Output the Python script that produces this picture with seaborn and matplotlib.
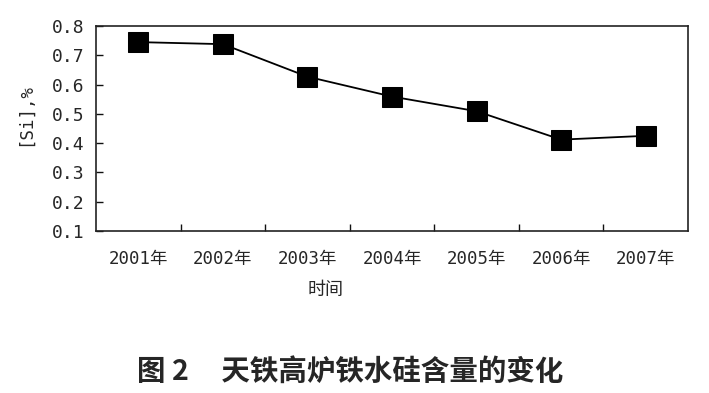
import numpy as np
import pandas as pd
import matplotlib
matplotlib.use("Agg")
import matplotlib.pyplot as plt
from matplotlib.ticker import FixedLocator, NullFormatter
import seaborn as sns

# data
years = ["2001年", "2002年", "2003年", "2004年", "2005年", "2006年", "2007年"]
si_pct = [0.745, 0.738, 0.627, 0.559, 0.509, 0.412, 0.425]
y_ticks = [0.1, 0.2, 0.3, 0.4, 0.5, 0.6, 0.7, 0.8]

df = pd.DataFrame({"year": years, "si": si_pct})

sns.set_theme(style="ticks")
mono = ["DejaVu Sans Mono", "Noto Sans CJK SC"]
cjk = ["Noto Sans CJK SC", "DejaVu Sans"]
plt.rcParams["font.family"] = mono
plt.rcParams["xtick.direction"] = "in"
plt.rcParams["ytick.direction"] = "in"

fig = plt.figure(figsize=(7.09, 3.93), dpi=100)
ax = fig.add_axes([96 / 709, 1 - 231 / 393, (688 - 96) / 709, (231 - 26) / 393])

sns.lineplot(data=df, x="year", y="si", sort=False, color="black", lw=1.3,
             marker="s", markersize=14.5, markeredgecolor="black",
             markerfacecolor="black", ax=ax)

ax.set_xlim(-0.5, len(years) - 0.5)
ax.set_ylim(0.1, 0.8)
ax.set_yticks(y_ticks)
ax.set_yticklabels([f"{v:.1f}" for v in y_ticks], family=mono, fontsize=13)

# category labels centred, tick marks on category boundaries
ax.set_xticks(range(len(years)))
ax.set_xticklabels(years, family=mono, fontsize=12.5)
ax.tick_params(axis="x", which="major", length=0, pad=14)
ax.xaxis.set_minor_locator(FixedLocator(np.arange(0.5, len(years) - 1, 1)))
ax.xaxis.set_minor_formatter(NullFormatter())
ax.tick_params(axis="x", which="minor", direction="in", length=5, width=1,
               color="#111111", bottom=True)
ax.tick_params(axis="y", which="major", direction="in", length=5, width=1,
               color="#111111", left=True, pad=8)

for s in ax.spines.values():
    s.set_color("#222222")
    s.set_linewidth(1.2)
    s.set_visible(True)

ax.set_xlabel("")
ax.set_ylabel("")
fig.text(25 / 709, 1 - 114 / 393, "[Si],%", rotation=90, ha="center",
         va="center", family=mono, fontsize=12.5)
fig.text(326 / 709, 1 - 290 / 393, "时间", ha="center", va="center",
         family=cjk, fontsize=13)
fig.text(350 / 709, 1 - 372 / 393, "图 2     天铁高炉铁水硅含量的变化",
         ha="center", va="center", family=cjk, fontsize=20.5, fontweight="bold")

fig.savefig("out.png", dpi=100)
